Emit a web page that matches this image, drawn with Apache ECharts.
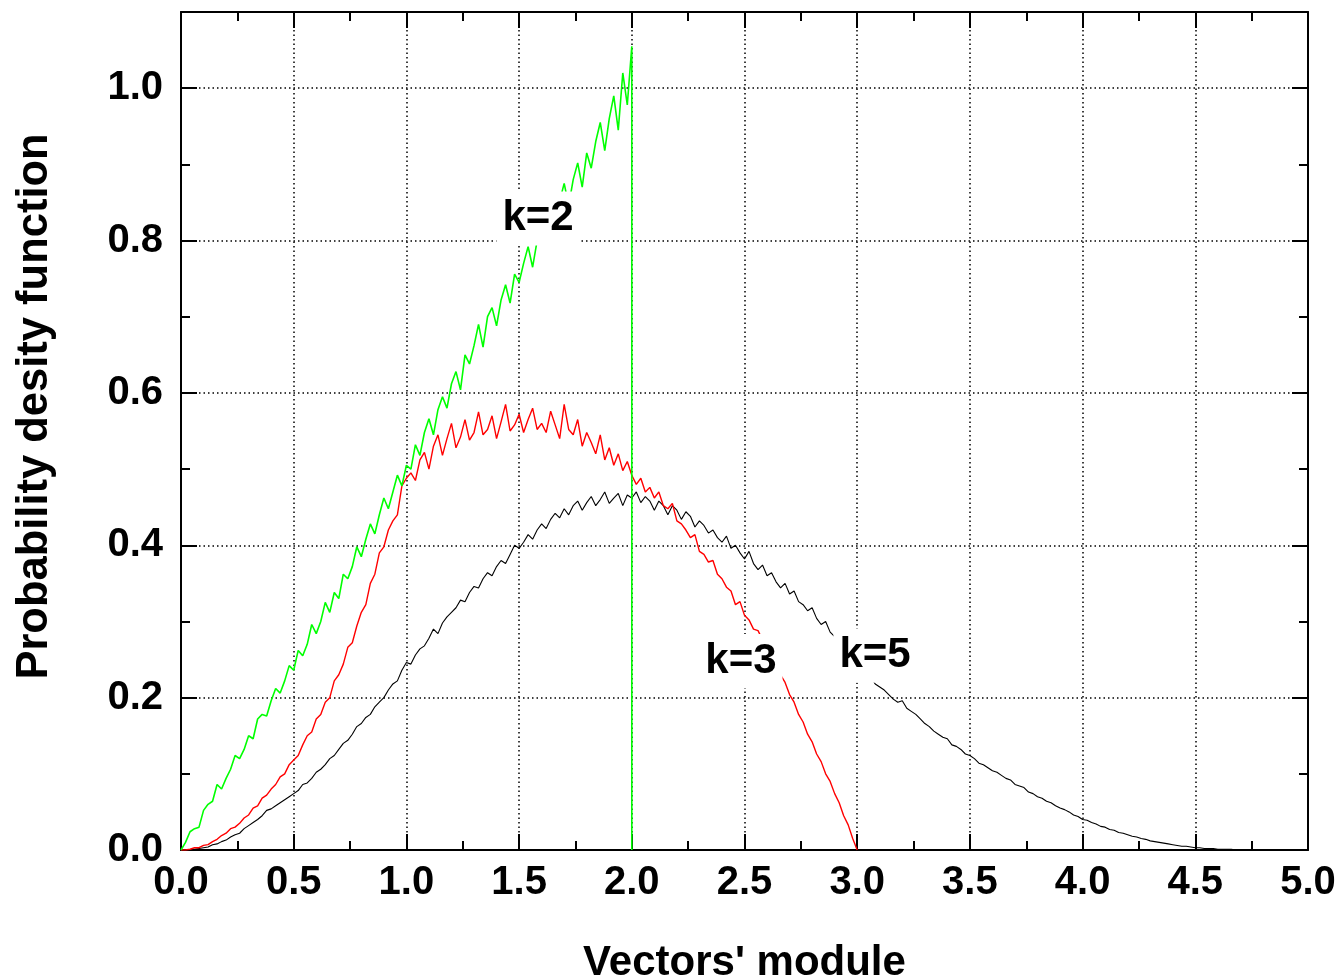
<!DOCTYPE html>
<html>
<head>
<meta charset="utf-8">
<script src="https://cdn.jsdelivr.net/npm/echarts@6/dist/echarts.min.js"></script>
<style>
html,body{margin:0;padding:0;background:#fff;}
#chart{width:1342px;height:978px;}
</style>
</head>
<body>
<div id="chart"></div>
<script>
// Sampling step (x spacing of the values below)
const xStep = 0.02;

// k=2 (green): x = 0.00 .. 2.00, then drops to 0 at x = 2.0
const k2Values = [
0.000,0.010,0.024,0.028,0.030,0.052,0.060,0.064,0.086,0.080,
0.094,0.106,0.124,0.120,0.132,0.150,0.146,0.172,0.178,0.176,
0.196,0.212,0.206,0.222,0.242,0.236,0.262,0.255,0.270,0.296,
0.284,0.300,0.325,0.312,0.338,0.330,0.362,0.356,0.372,0.398,
0.385,0.408,0.428,0.415,0.440,0.462,0.448,0.470,0.492,0.478,
0.505,0.500,0.532,0.518,0.548,0.566,0.545,0.578,0.595,0.580,
0.612,0.628,0.604,0.650,0.638,0.662,0.690,0.660,0.700,0.712,
0.688,0.722,0.742,0.718,0.756,0.745,0.770,0.792,0.765,0.800,
0.820,0.796,0.838,0.818,0.852,0.875,0.846,0.880,0.902,0.870,
0.915,0.895,0.930,0.955,0.918,0.960,0.990,0.945,1.020,0.978,
1.055
];
const k2End = [2.0, 0.0];

// k=3 (red): x = 0.00 .. 3.00
const k3Values = [
0.000,0.000,0.001,0.003,0.003,0.006,0.007,0.011,0.014,0.019,
0.022,0.028,0.030,0.035,0.042,0.046,0.055,0.058,0.068,0.072,
0.080,0.086,0.096,0.100,0.112,0.118,0.124,0.138,0.150,0.155,
0.172,0.178,0.194,0.200,0.222,0.230,0.244,0.266,0.272,0.294,
0.312,0.322,0.350,0.362,0.390,0.398,0.420,0.432,0.440,0.478,
0.488,0.495,0.485,0.512,0.522,0.500,0.530,0.545,0.518,0.540,
0.560,0.528,0.542,0.565,0.538,0.548,0.575,0.545,0.552,0.570,
0.540,0.562,0.585,0.550,0.558,0.572,0.548,0.565,0.580,0.552,
0.560,0.548,0.576,0.558,0.540,0.585,0.552,0.545,0.565,0.530,
0.548,0.535,0.520,0.545,0.512,0.528,0.505,0.520,0.498,0.510,
0.492,0.480,0.488,0.470,0.476,0.462,0.470,0.452,0.448,0.455,
0.432,0.428,0.420,0.410,0.414,0.392,0.388,0.378,0.380,0.362,
0.356,0.345,0.340,0.322,0.326,0.308,0.302,0.290,0.288,0.276,
0.270,0.258,0.246,0.230,0.220,0.204,0.194,0.178,0.168,0.152,
0.142,0.126,0.116,0.100,0.090,0.074,0.062,0.045,0.033,0.015,
0.000
];

// k=5 (black): x = 0.00 .. 4.76
const k5Values = [
0.000,0.000,0.000,0.001,0.002,0.003,0.004,0.007,0.008,0.011,
0.013,0.017,0.020,0.022,0.028,0.032,0.036,0.040,0.045,0.052,
0.054,0.058,0.062,0.066,0.070,0.074,0.078,0.086,0.088,0.094,
0.102,0.106,0.112,0.120,0.124,0.132,0.140,0.144,0.152,0.162,
0.166,0.174,0.178,0.188,0.194,0.200,0.210,0.218,0.222,0.236,
0.246,0.244,0.256,0.264,0.268,0.278,0.290,0.284,0.298,0.306,
0.312,0.318,0.328,0.326,0.338,0.346,0.344,0.356,0.364,0.360,
0.372,0.380,0.376,0.388,0.400,0.396,0.404,0.414,0.408,0.420,
0.428,0.422,0.434,0.442,0.436,0.448,0.440,0.452,0.458,0.446,
0.456,0.464,0.452,0.460,0.470,0.455,0.462,0.468,0.452,0.466,
0.462,0.470,0.456,0.464,0.458,0.446,0.458,0.452,0.440,0.452,
0.446,0.434,0.444,0.438,0.424,0.432,0.426,0.416,0.420,0.410,
0.404,0.412,0.396,0.400,0.390,0.382,0.392,0.376,0.368,0.374,
0.360,0.364,0.352,0.344,0.350,0.336,0.340,0.326,0.322,0.314,
0.318,0.304,0.296,0.300,0.286,0.280,0.272,0.268,0.258,0.252,
0.246,0.238,0.230,0.226,0.218,0.214,0.210,0.204,0.198,0.194,
0.196,0.186,0.182,0.178,0.172,0.166,0.162,0.156,0.152,0.148,
0.146,0.138,0.136,0.132,0.126,0.124,0.120,0.114,0.112,0.108,
0.104,0.102,0.098,0.094,0.092,0.086,0.084,0.082,0.076,0.074,
0.070,0.068,0.064,0.062,0.058,0.055,0.053,0.050,0.046,0.044,
0.040,0.039,0.036,0.034,0.031,0.030,0.027,0.026,0.023,0.022,
0.020,0.018,0.017,0.015,0.014,0.012,0.011,0.010,0.009,0.008,
0.007,0.006,0.005,0.005,0.004,0.003,0.003,0.002,0.002,0.002,
0.001,0.001,0.001,0.001,0.000,0.000,0.000,0.000,0.000
];

// Curve annotations: [x, y, text]
const annotations = [
  [1.584, 0.829, 'k=2'],
  [2.484, 0.248, 'k=3'],
  [3.079, 0.255, 'k=5']
];

const xTickLabels = ['0.0','0.5','1.0','1.5','2.0','2.5','3.0','3.5','4.0','4.5','5.0'];
const yTickLabels = ['0.0','0.2','0.4','0.6','0.8','1.0'];
const xTitle = "Vectors' module";
const yTitle = 'Probability desity function';

function toPairs(vals){ return vals.map((v,i)=>[+(i*xStep).toFixed(2), v]); }

const FONT = "'Liberation Sans', Arial, sans-serif";
const chart = echarts.init(document.getElementById('chart'), null, {renderer:'canvas'});

const dotted = {show:true, lineStyle:{color:'#000', width:1.5, type:[1.5,3]}};
const tickStyle = {color:'#000', width:2};

chart.setOption({
  animation:false,
  backgroundColor:'#fff',
  grid:{left:181, right:34, top:12, bottom:128, containLabel:false, outerBoundsMode:'none'},
  xAxis:[{
    type:'value', min:0, max:5, interval:0.5, position:'bottom',
    axisLine:{show:true, onZero:false, lineStyle:{color:'#000', width:2}},
    axisTick:{show:true, inside:true, length:16, lineStyle:tickStyle},
    minorTick:{show:true, splitNumber:2, length:9, lineStyle:tickStyle},
    axisLabel:{show:true, margin:13, color:'#000', fontFamily:FONT, fontWeight:'bold', fontSize:40,
      formatter:(v)=>{const i=Math.round(v/0.5); return xTickLabels[i]!==undefined && Math.abs(v-i*0.5)<1e-6 ? xTickLabels[i] : '';}},
    splitLine:dotted,
    name:xTitle, nameLocation:'middle', nameGap:92,
    nameTextStyle:{color:'#000', fontFamily:FONT, fontWeight:'bold', fontSize:42}
  },{
    type:'value', min:0, max:5, interval:0.5, position:'top',
    axisLine:{show:true, onZero:false, lineStyle:{color:'#000', width:2}},
    axisTick:{show:true, inside:true, length:16, lineStyle:tickStyle},
    minorTick:{show:true, splitNumber:2, length:9, lineStyle:tickStyle},
    axisLabel:{show:false}, splitLine:{show:false}
  }],
  yAxis:[{
    type:'value', min:0, max:1.1, interval:0.2, position:'left',
    axisLine:{show:true, onZero:false, lineStyle:{color:'#000', width:2}},
    axisTick:{show:true, inside:true, length:16, lineStyle:tickStyle},
    minorTick:{show:true, splitNumber:2, length:9, lineStyle:tickStyle},
    axisLabel:{show:true, margin:18, showMaxLabel:false, color:'#000', fontFamily:FONT, fontWeight:'bold', fontSize:40,
      formatter:(v)=>{const i=Math.round(v/0.2); return yTickLabels[i]!==undefined && Math.abs(v-i*0.2)<1e-6 ? yTickLabels[i] : '';}},
    splitLine:dotted,
    name:yTitle, nameLocation:'middle', nameGap:124,
    nameTextStyle:{color:'#000', fontFamily:FONT, fontWeight:'bold', fontSize:43.5, padding:[0,0,0,49]}
  },{
    type:'value', min:0, max:1.1, interval:0.2, position:'right',
    axisLine:{show:true, onZero:false, lineStyle:{color:'#000', width:2}},
    axisTick:{show:true, inside:true, length:16, lineStyle:tickStyle},
    minorTick:{show:true, splitNumber:2, length:9, lineStyle:tickStyle},
    axisLabel:{show:false}, splitLine:{show:false}
  }],
  series:[
    {name:'k=5', type:'line', xAxisIndex:0, yAxisIndex:0, data:toPairs(k5Values), showSymbol:false, symbol:'none',
      lineStyle:{color:'#000000', width:1.1}, z:3},
    {name:'k=3', type:'line', xAxisIndex:0, yAxisIndex:0, data:toPairs(k3Values), showSymbol:false, symbol:'none',
      lineStyle:{color:'#ff0000', width:1.4}, z:4},
    {name:'k=2', type:'line', xAxisIndex:0, yAxisIndex:0, data:toPairs(k2Values).concat([k2End]), showSymbol:false, symbol:'none',
      lineStyle:{color:'#00ff00', width:1.6}, z:5},
    {name:'labels', type:'scatter', xAxisIndex:0, yAxisIndex:0, data:annotations, symbolSize:1,
      itemStyle:{color:'#ffffff', opacity:1}, z:10, silent:true,
      label:{show:true, position:'inside', formatter:(p)=>p.data[2], color:'#000000', opacity:1,
        textBorderWidth:0, textBorderColor:'transparent', fontFamily:FONT, fontWeight:'bold',
        fontSize:42, backgroundColor:'#ffffff', padding:[6,6,6,6]}}
  ]
});
</script>
</body>
</html>
